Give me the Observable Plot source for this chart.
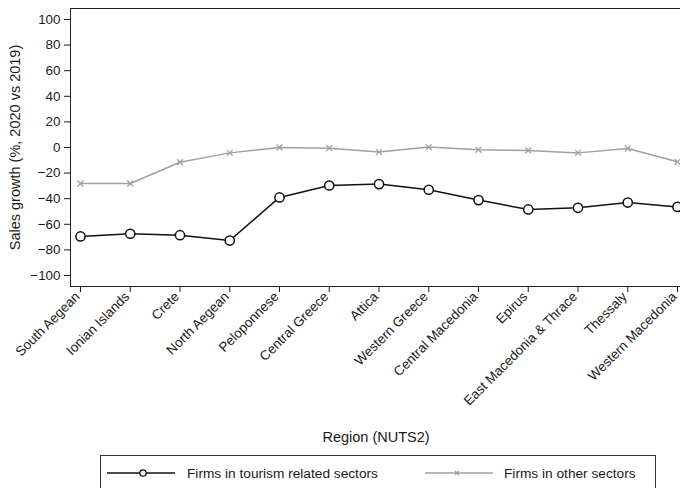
<!DOCTYPE html>
<html>
<head>
<meta charset="utf-8">
<script src="https://cdn.jsdelivr.net/npm/d3@7"></script>
<script src="https://cdn.jsdelivr.net/npm/@observablehq/plot@0.6"></script>
<style>
  html, body { margin: 0; padding: 0; background: #fff; }
  body { position: relative; width: 680px; height: 488px; overflow: hidden; font-family: "Liberation Sans", Arial, sans-serif; color: #1a1a1a; }
  #legend { position: absolute; left: 100px; top: 455px; width: 556px; height: 44px; border: 1px solid #333; box-sizing: border-box; font-size: 13.7px; }
  .item { position: absolute; top: 8px; display: flex; align-items: center; height: 18px; }
  .item svg { display: block; }
</style>
</head>
<body>
<div id="chart"></div>
<div id="legend">
  <div class="item" style="left:6px">
    <svg width="70" height="18"><line x1="0" y1="9" x2="68" y2="9" stroke="#111" stroke-width="1.5"/><circle cx="36" cy="9" r="3.2" fill="#fff" stroke="#111" stroke-width="1.3"/></svg>
    <span style="margin-left:10px">Firms in tourism related sectors</span>
  </div>
  <div class="item" style="left:324px">
    <svg width="70" height="18"><line x1="0" y1="9" x2="68" y2="9" stroke="#a0a0a0" stroke-width="1.5"/><path d="M30,7L34,11M34,7L30,11" stroke="#a0a0a0" stroke-width="1.2"/></svg>
    <span style="margin-left:9px">Firms in other sectors</span>
  </div>
</div>
<script>
const regions = ["South Aegean", "Ionian Islands", "Crete", "North Aegean", "Peloponnese", "Central Greece", "Attica", "Western Greece", "Central Macedonia", "Epirus", "East Macedonia & Thrace", "Thessaly", "Western Macedonia"];
const tourism = [-69.5, -67.4, -68.5, -72.7, -39.0, -29.7, -28.6, -33.0, -41.1, -48.4, -47.1, -43.0, -46.4];
const other = [-28.1, -28.1, -11.5, -4.2, 0.0, -0.5, -3.6, 0.3, -1.8, -2.3, -4.2, -0.8, -11.2];
const yTicks = [-100, -80, -60, -40, -20, 0, 20, 40, 60, 80, 100];

const data = regions.map((r, i) => ({region: r, tourism: tourism[i], other: other[i]}));

const chart = Plot.plot({
  width: 680,
  height: 450,
  marginTop: 8,
  marginLeft: 70,
  marginRight: -1,
  marginBottom: 164,
  style: {fontFamily: "'Liberation Sans', Arial, sans-serif", fontSize: "14.5px", color: "#1a1a1a", background: "#fff"},
  x: {type: "point", domain: regions, range: [80, 677], padding: 0, round: false},
  y: {domain: [-108.6, 108.6]},
  marks: [
    Plot.frame({stroke: "#222", strokeWidth: 1}),
    Plot.axisY({ticks: yTicks, tickSize: 6, tickPadding: 4, fontSize: 13.4, label: null}),
    Plot.axisY({ticks: [], tickSize: 0, fontSize: 14.5, label: "Sales growth (%, 2020 vs 2019)", labelArrow: "none", labelAnchor: "center", labelOffset: 61}),
    Plot.axisX({tickSize: 6, text: null, label: null}),
    Plot.axisX({tickRotate: -45, tickSize: 0, tickPadding: 8, dx: -3, fontSize: 13.4, label: null}),
    Plot.axisX({ticks: [], tickSize: 0, fontSize: 14.5, label: "Region (NUTS2)", labelArrow: "none", labelAnchor: "center", labelOffset: 155}),
    Plot.line(data, {x: "region", y: "other", stroke: "#a0a0a0", strokeWidth: 1.5}),
    Plot.dot(data, {x: "region", y: "other", symbol: "times", r: 2.8, stroke: "#a0a0a0", strokeWidth: 1.3}),
    Plot.line(data, {x: "region", y: "tourism", stroke: "#111", strokeWidth: 1.5}),
    Plot.dot(data, {x: "region", y: "tourism", r: 4.6, stroke: "#111", fill: "#fff", strokeWidth: 1.5})
  ]
});
document.getElementById("chart").appendChild(chart);
</script>
</body>
</html>
